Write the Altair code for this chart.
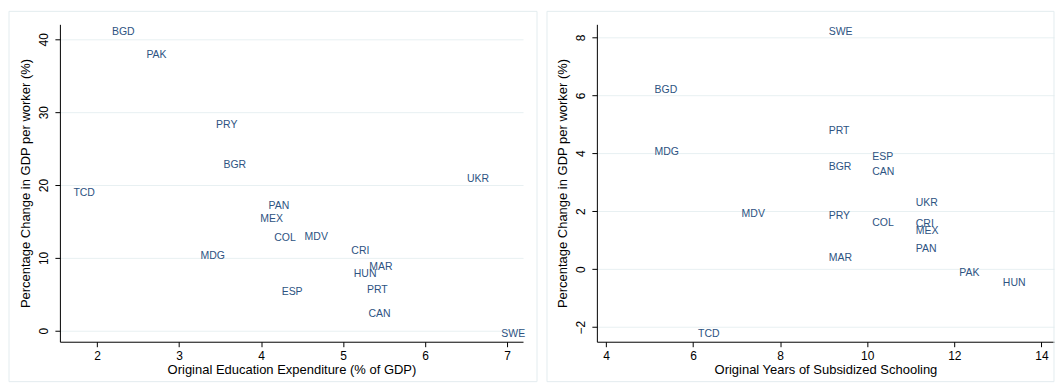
import altair as alt
import pandas as pd

countries = ["BGD", "PAK", "PRY", "BGR", "UKR", "TCD", "PAN", "MEX", "COL",
             "MDV", "CRI", "MDG", "MAR", "HUN", "ESP", "PRT", "CAN", "SWE"]
edu_expenditure = [2.12, 2.54, 3.39, 3.48, 6.45, 1.65, 4.03, 3.93, 4.10,
                   4.47, 5.04, 3.20, 5.26, 5.07, 4.19, 5.23, 5.25, 6.87]
change_by_expenditure = [41.0, 37.85, 28.3, 22.8, 20.8, 18.85, 17.1, 15.4, 12.7,
                         12.8, 10.9, 10.2, 8.7, 7.8, 5.3, 5.6, 2.3, -0.45]
years_schooling = [5, 12, 9, 9, 11, 6, 11, 11, 10,
                   7, 11, 5, 9, 13, 10, 9, 10, 9]
change_by_years = [6.17, -0.14, 1.82, 3.54, 2.29, -2.24, 0.71, 1.30, 1.60,
                   1.91, 1.57, 4.06, 0.38, -0.49, 3.86, 4.78, 3.37, 8.18]

df = pd.DataFrame({
    "country": countries,
    "edu": edu_expenditure,
    "chg_edu": change_by_expenditure,
    "years": years_schooling,
    "chg_years": change_by_years,
})

Y_TITLE = "Percentage Change in GDP per worker (%)"
LABEL_COLOR = "#2d5382"
BOX_COLOR = "#e3ecef"
FONT = "Liberation Sans"

y_axis_common = dict(
    labelAngle=270, labelAlign="center", labelBaseline="bottom",
    grid=True, gridColor="#e8f0f2", gridWidth=1,
    titlePadding=5, labelPadding=4,
)
x_axis_common = dict(grid=False, titlePadding=2, labelPadding=4)

box_data = alt.Data(values=[{"k": 1}])


def panel(xfield, yfield, xdom, ydom, xticks, yticks, xtitle, w, h, box):
    base = alt.Chart(df)
    text = base.mark_text(
        align="left", baseline="middle", dx=5, fontSize=10.5, font=FONT,
        color=LABEL_COLOR,
    ).encode(
        x=alt.X(f"{xfield}:Q", title=xtitle,
                scale=alt.Scale(domain=xdom, nice=False, zero=False),
                axis=alt.Axis(values=xticks, **x_axis_common)),
        y=alt.Y(f"{yfield}:Q", title=Y_TITLE,
                scale=alt.Scale(domain=ydom, nice=False, zero=False),
                axis=alt.Axis(values=yticks, **y_axis_common)),
        text="country:N",
    )
    frame = alt.Chart(box_data).mark_rect(
        filled=False, stroke=BOX_COLOR, strokeWidth=1
    ).encode(
        x=alt.value(box[0]), x2=alt.value(box[1]),
        y=alt.value(box[2]), y2=alt.value(box[3]),
    )
    return alt.layer(frame, text).properties(width=w, height=h)


left = panel("edu", "chg_edu", [1.546, 7.195], [-1.5, 42.05],
             [2, 3, 4, 5, 6, 7], [0, 10, 20, 30, 40],
             "Original Education Expenditure (% of GDP)",
             464, 318, (-51, 478, -13, 358))
right = panel("years", "chg_years", [3.79, 14.29], [-2.505, 8.45],
              [4, 6, 8, 10, 12, 14], [-2, 0, 2, 4, 6, 8],
              "Original Years of Subsidized Schooling",
              458, 318, (-50, 458, -13, 358))

chart = alt.hconcat(left, right, spacing=74, bounds="flush").properties(
    padding={"top": 2, "left": 0, "right": 0, "bottom": 0},
    background="white",
).configure_view(stroke=None).configure_axis(
    domainColor="black", tickColor="black", tickSize=5,
    labelColor="black", titleColor="black",
    labelFont=FONT, titleFont=FONT,
    labelFontSize=12, titleFontSize=13, titleFontWeight="normal",
)

chart.save("out.html", embed_options={"renderer": "svg", "actions": False})
